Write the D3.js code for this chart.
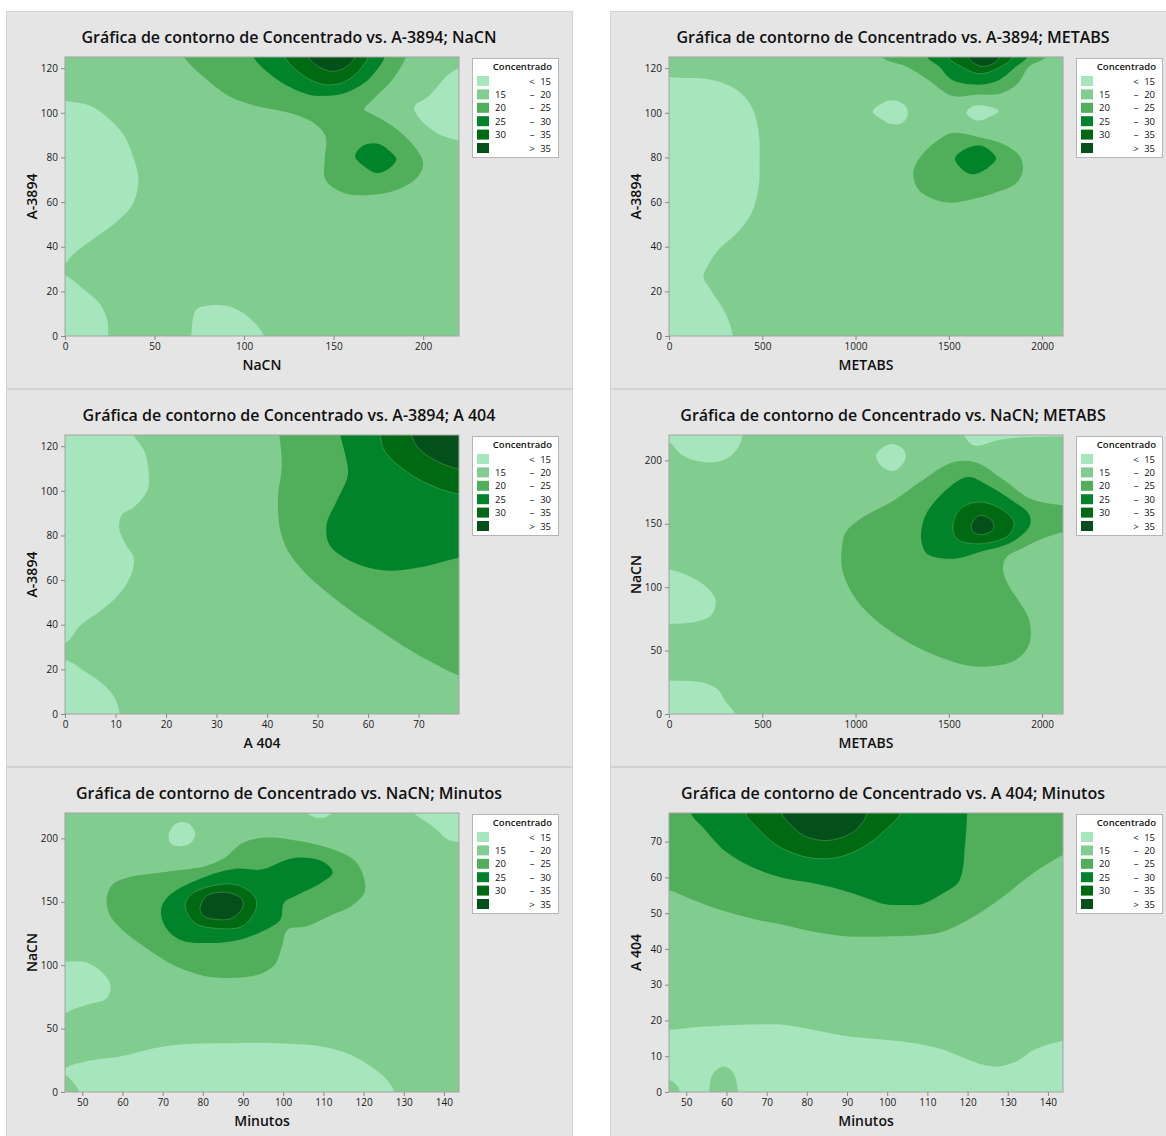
<!DOCTYPE html>
<html>
<head>
<meta charset="utf-8">
<script src="https://cdn.jsdelivr.net/npm/d3@7"></script>
<style>
  html, body { margin: 0; padding: 0; background: #ffffff; }
  svg { display: block; font-family: "Open Sans", "Noto Sans", sans-serif; }
</style>
</head>
<body>
<svg id="chart" width="1166" height="1136"></svg>
<script>
// ---- Panel text ----
const panelTitles = [
  "Gráfica de contorno de Concentrado vs. A-3894; NaCN",
  "Gráfica de contorno de Concentrado vs. A-3894; METABS",
  "Gráfica de contorno de Concentrado vs. A-3894; A 404",
  "Gráfica de contorno de Concentrado vs. NaCN; METABS",
  "Gráfica de contorno de Concentrado vs. NaCN; Minutos",
  "Gráfica de contorno de Concentrado vs. A 404; Minutos"
];
const xLabels = ["NaCN", "METABS", "A 404", "METABS", "Minutos", "Minutos"];
const yLabels = ["A-3894", "A-3894", "A-3894", "NaCN", "NaCN", "A 404"];

// ---- Axis ranges and ticks ----
const xDomains = [[0, 220], [0, 2112], [0, 78], [0, 2112], [45.7, 143.75], [45.7, 143.75]];
const yDomains = [[0, 125], [0, 125], [0, 125], [0, 220], [0, 220], [0, 78]];
const xTicks = [
  [0, 50, 100, 150, 200],
  [0, 500, 1000, 1500, 2000],
  [0, 10, 20, 30, 40, 50, 60, 70],
  [0, 500, 1000, 1500, 2000],
  [50, 60, 70, 80, 90, 100, 110, 120, 130, 140],
  [50, 60, 70, 80, 90, 100, 110, 120, 130, 140]
];
const yTicks = [
  [0, 20, 40, 60, 80, 100, 120],
  [0, 20, 40, 60, 80, 100, 120],
  [0, 20, 40, 60, 80, 100, 120],
  [0, 50, 100, 150, 200],
  [0, 50, 100, 150, 200],
  [0, 10, 20, 30, 40, 50, 60, 70]
];

// ---- Concentrado bands ----
const legendTitle = "Concentrado";
const bandLow   = ["", "15", "20", "25", "30", ""];
const bandSign  = ["<", "–", "–", "–", "–", ">"];
const bandHigh  = ["15", "20", "25", "30", "35", "35"];
const bandColors = ["#a7e5bc", "#81cd8f", "#51ae5b", "#00832a", "#006a12", "#04501b"];

// ---- Contour regions (x, y in axis units) ----
// b: band index; p: boundary points; c: corner points closing the shape
// outside the plot (absent = closed smooth blob).
const p1Regions = [
  {b: 0, p: [[-10,107],[0,105.4],[15,102.8],[32,91],[38,80.4],[41,70],[38,59.4],[30,52],[15,43],[5,37],[0,32.5],[-10,30]], c: []},
  {b: 0, p: [[-10,28],[0,27.1],[11,20.5],[19.4,14.5],[23.6,7],[24.2,0],[24.5,-12]], c: [[-10,-12]]},
  {b: 0, p: [[69,-12],[70.5,0],[73,11.5],[79,13.5],[90,13.5],[100,10],[108,4],[111,0],[112,-12]], c: []},
  {b: 0, p: [[232,122],[220,119.8],[214,117],[203,107.3],[195,102.8],[197,98.4],[207.5,91],[220,87.6],[232,86]], c: []},
  {b: 2, p: [[60,137],[66.4,125],[79,115],[92,107.3],[108,102.8],[125,100],[139,95.4],[145.5,89.4],[145,79],[145.5,70],[156,64],[170,63.2],[185,65.4],[197,71.4],[200,77.4],[195,85],[183,94],[170,100],[167,101.5],[172,106],[183,115],[190.4,125],[195,137]], c: []},
  {b: 3, p: [[162,80.4],[165,84.5],[169,86],[175,86.1],[181,83],[185,79.2],[181,75.1],[174,73],[167,76]]},
  {b: 3, p: [[101,137],[105.2,125],[112.5,118.6],[123,112.6],[137,108],[145.5,107.6],[156,108.8],[167,113.3],[173.5,118.6],[178.6,125],[182,137]], c: []},
  {b: 4, p: [[119,137],[122.8,125],[129,119.3],[137,114.8],[145.5,112.6],[154,113.3],[162,117.1],[169.3,125],[172,137]], c: []},
  {b: 5, p: [[133,137],[135.8,125],[141.4,120.8],[148.7,118.6],[156,120.1],[162,125],[165,137]], c: []}
];

const p2Regions = [
  {b: 0, p: [[-100,118],[0,116],[225,114.8],[363,110.3],[442,102.8],[481,91],[485,76],[481,67],[442,55],[363,46],[264,38.5],[205,31],[185,26.5],[225,20.5],[304,10],[343,0],[350,-12]], c: [[-100,-12]]},
  {b: 0, p: [[1092,100.6],[1152,104.6],[1211,105.5],[1270,102.8],[1280,99.1],[1250,95.4],[1191,95],[1132,97.6]]},
  {b: 0, p: [[1595,100],[1625,102.8],[1684,103.3],[1767,100.9],[1704,97.6],[1645,96.6]]},
  {b: 2, p: [[1100,137],[1142,125],[1269,120.8],[1388,114.8],[1516,107.6],[1644,108.1],[1782,108.8],[1871,113.3],[1931,120.8],[2019,125],[2050,137]], c: []},
  {b: 2, p: [[1309,73],[1349,80.4],[1447,88],[1516,91],[1664,89.1],[1802,85.6],[1881,80.4],[1897,74.4],[1861,68.4],[1743,64],[1644,61.7],[1516,59.7],[1427,61],[1339,65.4]]},
  {b: 3, p: [[1533,79.6],[1586,83.7],[1675,85.2],[1753,79.6],[1704,75.1],[1625,72.5],[1566,75.1]]},
  {b: 3, p: [[1360,137],[1384.5,125],[1447,120.8],[1516,114.8],[1664,112.6],[1772,114.8],[1861,120.8],[1920,125],[1940,137]], c: []},
  {b: 4, p: [[1480,137],[1496,125],[1565,120.8],[1664,117.5],[1763,120],[1842,125],[1860,137]], c: []},
  {b: 5, p: [[1590,137],[1603,125],[1673,120.8],[1743,122.3],[1772,125],[1785,137]], c: []}
];

const p3Regions = [
  {b: 0, p: [[12,137],[13.6,125],[15.7,117.8],[16.6,107.3],[16.3,100],[13.5,92.4],[11.3,89.4],[10.7,83.4],[12,76],[13.6,70],[13.1,62.4],[10.6,53.4],[6.9,46],[3.2,40],[0,31.7],[-6,29]], c: [[-6,137]]},
  {b: 0, p: [[-6,25],[0,24.3],[4,19],[8.4,11.5],[10.2,5.5],[10.8,0],[11,-12]], c: [[-6,-12]]},
  {b: 2, p: [[41,137],[42.4,125],[42.9,110.3],[42.2,98.4],[42.4,85],[43.5,76],[45,70],[47.9,62.4],[51.6,55],[56.7,46],[62.6,37],[67.7,29.5],[72.9,22.8],[78,17.2],[90,11]], c: [[95,11],[95,137]]},
  {b: 3, p: [[54,137],[54.5,125],[55.3,117.8],[56,107.3],[53.8,95.4],[51.8,85],[52.3,76],[55.3,70],[60.4,65.4],[64.8,64.2],[71.4,66.2],[78,70],[90,73]], c: [[95,73],[95,137]]},
  {b: 4, p: [[62,137],[62.4,125],[63.3,117.8],[67,109.6],[72.1,102.8],[78,98.4],[90,94]], c: [[95,94],[95,137]]},
  {b: 5, p: [[68,137],[68.6,125],[69.9,119.3],[72.9,114.1],[78,109.6],[90,105]], c: [[95,105],[95,137]]}
];

const p4Regions = [
  {b: 0, p: [[-40,216],[8,213.6],[57,205.7],[137,200],[236,198.4],[315,201.8],[374,211],[394,220],[400,234]], c: [[-40,234]]},
  {b: 0, p: [[1110,203.6],[1146,210.2],[1205,212.8],[1255,208.9],[1269,202.3],[1245,195.8],[1205,191.8],[1146,194.4]]},
  {b: 0, p: [[1570,234],[1582,220],[1620,213],[1661,211.5],[1720,214],[1780,216.5],[1938,218.4],[2112,218.9],[2160,219]], c: [[2160,234]]},
  {b: 0, p: [[-40,114],[0,114],[137,106.7],[226,96.2],[251,88.4],[226,77.9],[137,72.6],[0,71],[-40,71]], c: []},
  {b: 0, p: [[-40,26.2],[0,26.2],[156,25.4],[255,20.2],[305,9.7],[354,0],[360,-15]], c: [[-40,-15]]},
  {b: 2, p: [[2160,143],[2112,143.4],[1997,138],[1889,130.3],[1810,123.8],[1790,114.6],[1820,101.5],[1879,88.4],[1928,75.3],[1938,59.5],[1908,49],[1840,41.2],[1661,37.2],[1522,41.2],[1344,51.7],[1205,63.5],[1087,76.6],[988,93.6],[928,114.6],[928,133],[948,143.5],[1027,154],[1205,168.4],[1344,182.8],[1512,198],[1641,198.6],[1799,184.2],[1938,169.7],[2112,164.4],[2160,164]], c: []},
  {b: 3, p: [[1354,146],[1384,159.2],[1483,176.3],[1601,186.8],[1710,180.2],[1839,168.4],[1928,157.9],[1934,148.7],[1839,135.6],[1661,127.6],[1522,122.4],[1384,126.2],[1354,135.6]]},
  {b: 4, p: [[1522,148.7],[1562,161.8],[1661,167.1],[1779,161.8],[1849,151.3],[1819,140.8],[1661,134.2],[1542,138.2]]},
  {b: 5, p: [[1620,148.7],[1661,156.6],[1730,152.7],[1740,146],[1681,141.4],[1631,143.5]]}
];

const p5Regions = [
  {b: 0, p: [[71.6,204.2],[73.5,212],[76.3,212],[78.1,204.2],[77,196.3],[74.2,193.7],[71.9,196.3]]},
  {b: 0, p: [[104,226],[106.5,218.7],[109.3,216],[111.6,218.7],[113,226]], c: []},
  {b: 0, p: [[131,232],[132.6,220],[135.4,213.4],[138.2,206.8],[141,198.9],[143.8,197.1],[150,197]], c: [[150,232]]},
  {b: 0, p: [[40,103],[45.7,102.9],[51,102.4],[54.7,95],[57,84.5],[56.1,74],[51,68.7],[47.3,64.7],[45.7,62.1],[40,61]], c: []},
  {b: 0, p: [[40,18.7],[45.7,18.9],[47.3,21.3],[52.9,25.3],[59.4,27.9],[67.8,34.5],[75.1,37.6],[86.3,38.4],[98.3,38.4],[109.5,35.8],[116.9,29.2],[122.5,18.7],[126.2,8.2],[127.6,0],[128,-15]], c: [[40,-15]]},
  {b: 1, p: [[40,14],[45.7,13.4],[47.6,8.2],[49.2,0],[49.5,-15]], c: [[40,-15]]},
  {b: 2, p: [[56.1,153.1],[57.5,163.7],[61.2,169],[72.4,174.2],[80.7,178.2],[85.4,184.7],[90,196.6],[95.6,200.6],[103.9,198],[112.3,191.4],[117.9,182.1],[120.2,167.6],[120.2,157.1],[116.9,146.5],[112.3,140],[105.8,130.7],[101.1,128],[99.7,114.9],[97.9,100.4],[93.7,92.5],[86.3,89.9],[80.7,91.2],[73.3,99.1],[65.9,113.6],[59.4,129.5],[56.6,141.4]]},
  {b: 3, p: [[69.6,144.1],[71.5,154.6],[78.9,167.6],[88.1,176],[94.6,175.4],[101.1,183.4],[105.8,184.7],[110.4,180.8],[112.3,172.9],[109.5,165],[103,154.6],[100.2,149.3],[99.3,136.1],[95.6,128],[89.1,120.1],[81.7,117.4],[74.3,120.1],[70.6,130.7]]},
  {b: 4, p: [[75.6,147.6],[77,155.5],[81.7,162.1],[88.2,163.4],[92.8,154.6],[93.3,145.5],[90,131],[83.5,129],[77.9,133.6]]},
  {b: 5, p: [[79.3,143.6],[80.7,154.1],[85.4,157.5],[89.5,152.8],[90,146.3],[87.2,137],[83.5,136],[80.4,138.4]]}
];

const p6Regions = [
  {b: 0, p: [[40,17.4],[45.7,17.4],[54.3,18.3],[66.9,18.9],[74.2,18.8],[81.4,17.4],[90.5,15.5],[99.5,14.6],[108.6,13.3],[114,11.8],[119.4,9.4],[124,7.6],[127.6,7.1],[132.1,8.5],[136.6,11.8],[143.75,14.3],[150,15]], c: [[150,-10],[40,-10]]},
  {b: 1, p: [[55.5,-10],[55.7,0],[56.5,4.8],[59.2,7.1],[61.5,5.7],[62.9,0],[63,-10]], c: []},
  {b: 1, p: [[40,3.5],[45.7,3.4],[47.5,2],[48.4,0],[48.5,-10]], c: [[40,-10]]},
  {b: 2, p: [[40,56.5],[45.7,56.3],[50.6,54.2],[59.7,50.5],[67.8,48.1],[74.2,46.7],[81.4,44.9],[90.5,43.5],[99.5,43.5],[108.6,43.9],[114,44.9],[122.2,49.5],[129.4,55.1],[135.7,60.7],[143.75,66.3],[150,70]], c: [[150,90],[40,90]]},
  {b: 3, p: [[50,90],[51.1,78],[54.3,73.8],[59.7,67.3],[66.9,62.6],[74.2,59.8],[81.4,58.4],[88.7,56.5],[95,54.2],[99.5,52.5],[104.1,52.3],[108.6,52.5],[114,55.6],[117.6,58.4],[118.7,61.7],[119.3,68.2],[119.9,78],[120,90]], c: []},
  {b: 4, p: [[64,90],[64.7,78],[66.9,74.7],[72.4,69.1],[77.8,66.3],[83.2,65.2],[88.7,65.9],[95,69.1],[99.5,73.3],[103.3,78],[104,90]], c: []},
  {b: 5, p: [[73,90],[73.7,78],[76,74.7],[79.6,71.5],[85,70.3],[90.5,72],[93.2,74.4],[95,78],[95.5,90]], c: []}
];

const panelRegions = [p1Regions, p2Regions, p3Regions, p4Regions, p5Regions, p6Regions];

// ---- Layout ----
const colX = [6, 610];
const rowY = [11, 389, 767];
const panelW = 566, panelH = 377;
const plotL = 59, plotT = 46, plotW = 394, plotH = 279;
const legL = 466, legT = 47, legW = 86, legH = 99;

const svg = d3.select("#chart");

panelTitles.forEach((title, i) => {
  const px = colX[i % 2], py = rowY[Math.floor(i / 2)];
  const g = svg.append("g").attr("transform", `translate(${px},${py})`);

  g.append("rect")
    .attr("x", 0.5).attr("y", 0.5)
    .attr("width", panelW).attr("height", panelH)
    .attr("fill", "#e5e5e5").attr("stroke", "#d3d3d3");

  g.append("text")
    .attr("x", panelW / 2).attr("y", 32)
    .attr("text-anchor", "middle")
    .attr("font-size", 16).attr("font-weight", 600).attr("fill", "#111")
    .text(title);

  const x = d3.scaleLinear().domain(xDomains[i]).range([0, plotW]);
  const y = d3.scaleLinear().domain(yDomains[i]).range([plotH, 0]);

  const plot = g.append("g").attr("transform", `translate(${plotL},${plotT})`);
  const clipId = "clip" + i;
  plot.append("clipPath").attr("id", clipId)
    .append("rect").attr("width", plotW).attr("height", plotH);

  const area = plot.append("g").attr("clip-path", `url(#${clipId})`);
  area.append("rect").attr("width", plotW).attr("height", plotH).attr("fill", bandColors[1]);

  const smoothClosed = d3.line().x(d => x(d[0])).y(d => y(d[1])).curve(d3.curveCatmullRomClosed.alpha(0.5));
  const smoothOpen = d3.line().x(d => x(d[0])).y(d => y(d[1])).curve(d3.curveCatmullRom.alpha(0.5));

  panelRegions[i].forEach(r => {
    let d;
    if (!r.c) {
      d = smoothClosed(r.p);
    } else {
      d = smoothOpen(r.p) + r.c.map(q => `L${x(q[0])},${y(q[1])}`).join("") + "Z";
    }
    area.append("path")
      .attr("d", d)
      .attr("fill", bandColors[r.b])
      .attr("stroke", r.b >= 4 ? "rgba(190,235,190,0.35)" : "none")
      .attr("stroke-width", 0.7);
  });

  plot.append("rect")
    .attr("x", 0).attr("y", 0).attr("width", plotW).attr("height", plotH)
    .attr("fill", "none").attr("stroke", "#a3a3a3").attr("stroke-width", 1);

  const xa = plot.append("g").attr("transform", `translate(0,${plotH})`)
    .call(d3.axisBottom(x).tickValues(xTicks[i]).tickSize(4).tickPadding(3).tickFormat(d3.format("d")));
  const ya = plot.append("g")
    .call(d3.axisLeft(y).tickValues(yTicks[i]).tickSize(4).tickPadding(3).tickFormat(d3.format("d")));
  [xa, ya].forEach(a => {
    a.select(".domain").remove();
    a.selectAll(".tick line").attr("stroke", "#8a8a8a");
    a.selectAll(".tick text").attr("font-size", 10).attr("font-weight", 500).attr("fill", "#1a1a1a")
      .attr("font-family", "'Open Sans', sans-serif");
  });

  g.append("text")
    .attr("x", plotL + plotW / 2).attr("y", 359)
    .attr("text-anchor", "middle")
    .attr("font-size", 14).attr("font-weight", 600).attr("fill", "#111")
    .text(xLabels[i]);

  g.append("text")
    .attr("transform", `translate(30.5,${plotT + plotH / 2}) rotate(-90)`)
    .attr("text-anchor", "middle")
    .attr("font-size", 14).attr("font-weight", 600).attr("fill", "#111")
    .text(yLabels[i]);

  // legend
  const lg = g.append("g").attr("transform", `translate(${legL},${legT})`);
  lg.append("rect").attr("x", 0.5).attr("y", 0.5).attr("width", legW).attr("height", legH)
    .attr("fill", "#ffffff").attr("stroke", "#b5b5b5");
  lg.append("text").attr("x", 80).attr("y", 12).attr("text-anchor", "end")
    .attr("font-size", 9.5).attr("font-weight", 600).attr("fill", "#111").text(legendTitle);
  bandColors.forEach((col, k) => {
    const ry = 18 + k * 13.4;
    lg.append("rect").attr("x", 5).attr("y", ry).attr("width", 12).attr("height", 10).attr("fill", col);
    const t = lg.append("g").attr("font-size", 9.5).attr("font-weight", 500).attr("fill", "#111");
    t.append("text").attr("x", 23).attr("y", ry + 8.5).text(bandLow[k]);
    t.append("text").attr("x", 60).attr("y", ry + 8.5).attr("text-anchor", "middle").text(bandSign[k]);
    t.append("text").attr("x", 79).attr("y", ry + 8.5).attr("text-anchor", "end").text(bandHigh[k]);
  });
});
</script>
</body>
</html>
